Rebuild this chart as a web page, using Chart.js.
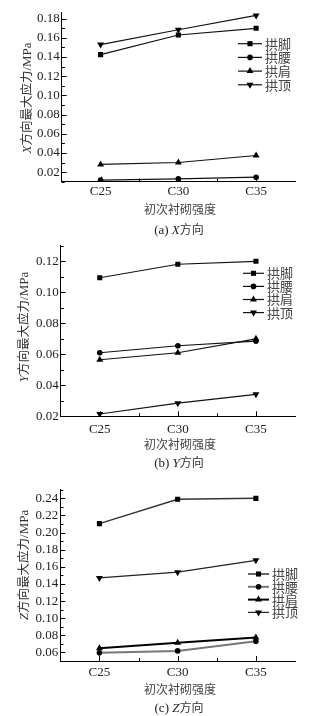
<!DOCTYPE html>
<html>
<head>
<meta charset="utf-8">
<script src="https://cdn.jsdelivr.net/npm/chart.js@4"></script>
<style>
  body { margin: 0; background: #fff; }
  #wrap { position: relative; width: 336px; height: 716px; overflow: hidden; }
  canvas { position: absolute; left: 0; }
  .t { position: absolute; white-space: nowrap; color: #333; font-family: "Liberation Serif", "Noto Sans CJK SC", serif; }
  .cn { font-family: "Noto Sans CJK SC", sans-serif; font-size: 12px; color: #444; }
  .cap { font-size: 13px; color: #222; }
  .cap span { font-family: "Noto Sans CJK SC", sans-serif; font-size: 12px; color: #333; }
  .yt { font-size: 13px; transform: translate(-50%, -50%) rotate(-90deg); color: #333; }
  .yt span { font-family: "Noto Sans CJK SC", sans-serif; font-size: 12.5px; }
</style>
</head>
<body>
<div id="wrap">
  <canvas id="chartX"></canvas>
  <canvas id="chartY"></canvas>
  <canvas id="chartZ"></canvas>

  <div class="t yt" style="left:25px;top:98px"><i>X</i><span>方向最大应力</span>/MPa</div>
  <div class="t cn" style="left:180px;top:208px;transform:translate(-50%,-50%)">初次衬砌强度</div>
  <div class="t cap" style="left:179px;top:229px;transform:translate(-50%,-50%)">(a) <i>X</i><span>方向</span></div>

  <div class="t yt" style="left:22px;top:327px"><i>Y</i><span>方向最大应力</span>/MPa</div>
  <div class="t cn" style="left:180px;top:443px;transform:translate(-50%,-50%)">初次衬砌强度</div>
  <div class="t cap" style="left:179px;top:462px;transform:translate(-50%,-50%)">(b) <i>Y</i><span>方向</span></div>

  <div class="t yt" style="left:22px;top:565px"><i>Z</i><span>方向最大应力</span>/MPa</div>
  <div class="t cn" style="left:180px;top:688px;transform:translate(-50%,-50%)">初次衬砌强度</div>
  <div class="t cap" style="left:179px;top:707px;transform:translate(-50%,-50%)">(c) <i>Z</i><span>方向</span></div>
</div>
<script>
// categories and series names
const categories = ['C25', 'C30', 'C35'];
const seriesNames = ['拱脚', '拱腰', '拱肩', '拱顶'];

// X direction max stress (MPa)
const xArchFoot = [0.1425, 0.163, 0.170];
const xArchWaist = [0.0116, 0.0129, 0.0147];
const xArchShoulder = [0.028, 0.030, 0.0373];
const xArchCrown = [0.153, 0.1685, 0.1834];

// Y direction max stress (MPa)
const yArchFoot = [0.1094, 0.1181, 0.120];
const yArchWaist = [0.061, 0.0655, 0.0685];
const yArchShoulder = [0.0565, 0.061, 0.070];
const yArchCrown = [0.0215, 0.0285, 0.0342];

// Z direction max stress (MPa)
const zArchFoot = [0.2105, 0.239, 0.240];
const zArchWaist = [0.0595, 0.0618, 0.073];
const zArchShoulder = [0.065, 0.0714, 0.0775];
const zArchCrown = [0.147, 0.1538, 0.1676];

// y tick labels
const xTicks = [0.02, 0.04, 0.06, 0.08, 0.10, 0.12, 0.14, 0.16, 0.18];
const yTicks = [0.02, 0.04, 0.06, 0.08, 0.10, 0.12];
const zTicks = [0.06, 0.08, 0.10, 0.12, 0.14, 0.16, 0.18, 0.20, 0.22, 0.24];

const markers = [
    { pointStyle: 'rect', pointRadius: 3.6, rotation: 0 },
    { pointStyle: 'circle', pointRadius: 2.8, rotation: 0 },
    { pointStyle: 'triangle', pointRadius: 4, rotation: 0 },
    { pointStyle: 'triangle', pointRadius: 4, rotation: 180 },
];

// inward major/minor ticks on both axes
const inwardTicks = {
    id: 'inwardTicks',
    afterDraw(chart) {
        const { ctx, chartArea: a } = chart;
        const x = chart.scales.x, y = chart.scales.y;
        ctx.save();
        ctx.strokeStyle = '#000';
        ctx.lineWidth = 1;
        ctx.beginPath();
        const vals = y.ticks.map(t => t.value);
        const step = vals[1] - vals[0];
        vals.forEach(v => {
            const py = Math.round(y.getPixelForValue(v)) + 0.5;
            ctx.moveTo(a.left, py); ctx.lineTo(a.left + 5, py);
            [v - step / 2, v + step / 2].forEach(m => {
                if (m < y.min || m > y.max) return;
                const pm = Math.round(y.getPixelForValue(m)) + 0.5;
                ctx.moveTo(a.left, pm); ctx.lineTo(a.left + 3, pm);
            });
        });
        const half = (x.getPixelForValue(1) - x.getPixelForValue(0)) / 2;
        categories.forEach((c, i) => {
            const px = Math.round(x.getPixelForValue(i)) + 0.5;
            ctx.moveTo(px, a.bottom); ctx.lineTo(px, a.bottom - 5);
            if (i < categories.length - 1) {
                const pm = Math.round(x.getPixelForValue(i) + half) + 0.5;
                ctx.moveTo(pm, a.bottom); ctx.lineTo(pm, a.bottom - 3);
            }
        });
        ctx.stroke();
        ctx.restore();
    }
};

// legend drawn inside the plot, line sample with marker
const boxLegend = {
    id: 'boxLegend',
    afterDraw(chart, args, opts) {
        const ctx = chart.ctx;
        ctx.save();
        chart.data.datasets.forEach((ds, i) => {
            const ly = opts.y + i * opts.gap;
            ctx.strokeStyle = ds.borderColor;
            ctx.lineWidth = ds.borderWidth;
            ctx.beginPath();
            ctx.moveTo(opts.x, ly);
            ctx.lineTo(opts.x + opts.len, ly);
            ctx.stroke();
            ctx.fillStyle = '#000';
            Chart.helpers.drawPoint(ctx, {
                pointStyle: ds.pointStyle, radius: ds.pointRadius,
                rotation: ds.pointRotation, borderWidth: 0
            }, opts.x + opts.len / 2, ly);
            ctx.fillStyle = '#444';
            ctx.font = '13px "Noto Sans CJK SC"';
            ctx.textBaseline = 'middle';
            ctx.fillText(ds.label, opts.x + opts.len + 3, ly);
        });
        ctx.restore();
    }
};

function makeChart(id, box, values, ticks, yMin, yMax, styles, legend) {
    const cv = document.getElementById(id);
    cv.style.top = box.top + 'px';
    cv.width = 336;
    cv.height = box.height;
    cv.style.width = '336px';
    cv.style.height = box.height + 'px';

    const datasets = values.map((vals, i) => ({
        label: seriesNames[i],
        data: vals,
        borderColor: styles[i].color,
        borderWidth: styles[i].width,
        backgroundColor: '#000',
        pointBackgroundColor: '#000',
        pointBorderWidth: 0,
        pointStyle: markers[i].pointStyle,
        pointRadius: markers[i].pointRadius,
        pointRotation: markers[i].rotation,
        tension: 0,
    }));

    return new Chart(cv.getContext('2d'), {
        type: 'line',
        data: { labels: categories, datasets: datasets },
        options: {
            responsive: false,
            animation: false,
            layout: { padding: { top: box.plotTop - box.top, right: 336 - box.right, left: 0, bottom: 0 } },
            plugins: { legend: { display: false }, tooltip: { enabled: false }, boxLegend: legend },
            scales: {
                x: {
                    type: 'category',
                    offset: true,
                    grid: { display: false, drawTicks: false },
                    border: { display: true, color: '#000', width: 1 },
                    ticks: { color: '#222', padding: box.xPad, font: { family: 'Liberation Serif', size: 13 } },
                    afterFit: s => { s.height = box.top + box.height - box.plotBottom; },
                },
                y: {
                    min: yMin,
                    max: yMax,
                    grid: { display: false, drawTicks: false },
                    border: { display: true, color: '#000', width: 1 },
                    afterBuildTicks: s => { s.ticks = ticks.map(v => ({ value: v })); },
                    ticks: {
                        color: '#222', padding: 2,
                        font: { family: 'Liberation Serif', size: 13 },
                        callback: v => v.toFixed(2),
                    },
                    afterFit: s => { s.width = box.left; },
                },
            },
        },
        plugins: [inwardTicks, boxLegend],
    });
}

const thin = [
    { color: '#111', width: 1.2 }, { color: '#111', width: 1.2 },
    { color: '#111', width: 1.2 }, { color: '#111', width: 1.2 },
];

makeChart('chartX',
    { top: 0, height: 205, plotTop: 12, plotBottom: 181.7, left: 61.7, right: 295, xPad: 2 },
    [xArchFoot, xArchWaist, xArchShoulder, xArchCrown], xTicks, 0.01, 0.187, thin,
    { x: 238, y: 43.7, gap: 13.7, len: 24 });

makeChart('chartY',
    { top: 236, height: 205, plotTop: 243.3, plotBottom: 416.3, left: 60.7, right: 295, xPad: 5 },
    [yArchFoot, yArchWaist, yArchShoulder, yArchCrown], yTicks, 0.02, 0.13, thin,
    { x: 243, y: 273.3 - 236, gap: 13.1, len: 21 });

makeChart('chartZ',
    { top: 480, height: 205, plotTop: 487.3, plotBottom: 661, left: 60.3, right: 295, xPad: 4 },
    [zArchFoot, zArchWaist, zArchShoulder, zArchCrown], zTicks, 0.05, 0.25,
    [{ color: '#333', width: 1.5 }, { color: '#777', width: 2 },
     { color: '#000', width: 2 }, { color: '#222', width: 1.2 }],
    { x: 248, y: 574 - 480, gap: 12.8, len: 21 });
</script>
</body>
</html>
